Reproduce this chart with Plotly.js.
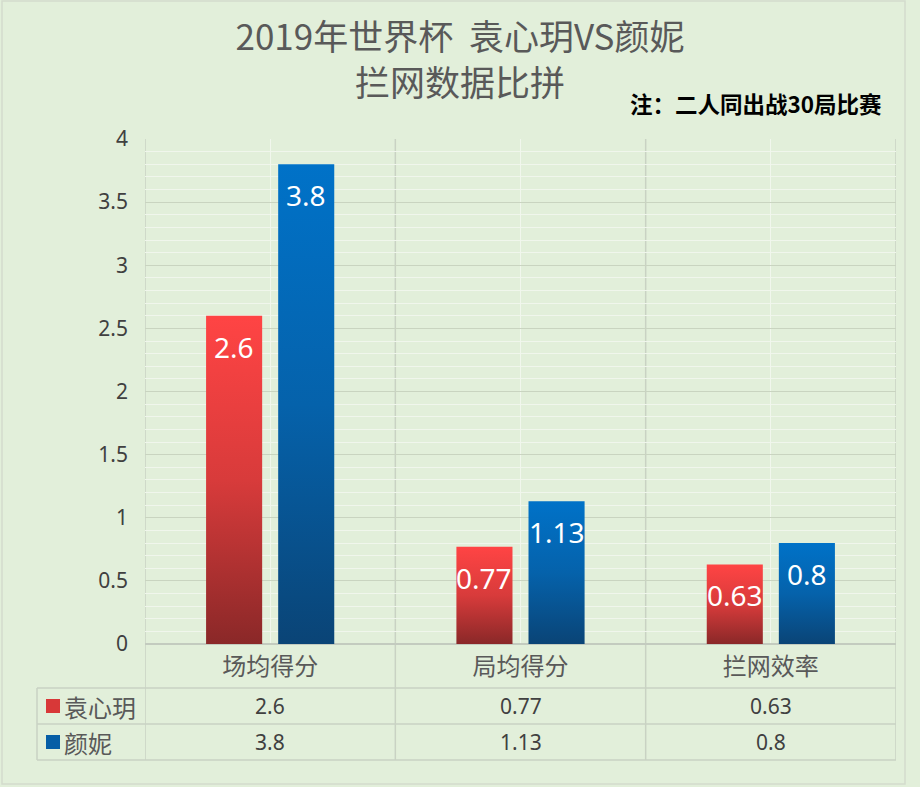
<!DOCTYPE html>
<html>
<head>
<meta charset="utf-8">
<script src="https://cdn.plot.ly/plotly-3.0.1.min.js"></script>
<style>html,body{margin:0;padding:0;background:#e2efda;}#chart{width:920px;height:787px;}</style>
</head>
<body>
<div id="chart"></div>
<script>
// ---- data ----
const categories = ['场均得分', '局均得分', '拦网效率'];
const seriesNames = ['袁心玥', '颜妮'];
const yuanValues = [2.6, 0.77, 0.63];
const yanValues = [3.8, 1.13, 0.8];
const yuanLabels = ['2.6', '0.77', '0.63'];
const yanLabels = ['3.8', '1.13', '0.8'];
const yTicks = [0, 0.5, 1, 1.5, 2, 2.5, 3, 3.5, 4];

// ---- styling ----
const BG = '#e2efda';
const FONT = '"Noto Sans", "Noto Sans CJK SC", sans-serif';
const CJK = '"Noto Sans CJK SC", "Noto Sans", sans-serif';
const series = [
  {name: seriesNames[0], values: yuanValues, labels: yuanLabels, offset: -0.144,
   scale: [[0, '#8a2828'], [0.5, '#d83b3b'], [1, '#ff4444']], key: '#d83838'},
  {name: seriesNames[1], values: yanValues, labels: yanLabels, offset: 0.144,
   scale: [[0, '#0a4476'], [0.5, '#0562ab'], [1, '#0072c8']], key: '#065ea6'}
];
const HALF = 0.112;

// pixel helpers for paper coords (plot area 145..896 x, 139..644 y)
const L = 145, R = 24, T = 139, B = 143, W = 920 - L - R, H = 787 - T - B;
const px = X => (X - L) / W;
const py = Y => (T + H - Y) / H;

const traces = [];
const annotations = [];
series.forEach(s => {
  s.values.forEach((v, i) => {
    const c = i + s.offset;
    traces.push({
      type: 'scatter', mode: 'lines', name: s.name,
      x: [c - HALF, c - HALF, c + HALF, c + HALF, c - HALF],
      y: [0, v, v, 0, 0],
      fill: 'toself',
      fillgradient: {type: 'vertical', colorscale: s.scale},
      line: {width: 0, color: 'rgba(0,0,0,0)'},
      hoveron: 'fills', text: s.name + ' ' + categories[i] + ': ' + s.labels[i],
      hoverinfo: 'text', showlegend: false
    });
    annotations.push({
      xref: 'x', yref: 'y', x: c, y: v, yshift: -31, yanchor: 'middle',
      text: s.labels[i], showarrow: false,
      font: {family: FONT, size: 28, color: '#ffffff'}
    });
  });
});

// table values + legend keys
const rowY = [706, 742];
series.forEach((s, r) => {
  s.labels.forEach((lab, i) => {
    annotations.push({
      xref: 'x', yref: 'paper', x: i, y: py(rowY[r]), yanchor: 'middle',
      text: lab, showarrow: false,
      font: {family: FONT, size: 21, color: '#404040'}
    });
  });
  annotations.push({
    xref: 'paper', yref: 'paper', x: px(62), y: py(rowY[r]), xanchor: 'left', yanchor: 'middle',
    text: s.name, showarrow: false,
    font: {family: CJK, size: 24, color: '#595959'}
  });
});

annotations.push({
  xref: 'paper', yref: 'paper', x: px(884), y: py(103), xanchor: 'right', yanchor: 'middle',
  text: '<b>注：二人同出战30局比赛</b>', showarrow: false,
  font: {family: CJK, size: 22.5, color: '#000000'}
});

const LINE = '#c9d2c3';
const shapes = [];
// vertical category boundaries through table
[-0.5, 0.5, 1.5, 2.5].forEach(xv => {
  shapes.push({type: 'line', xref: 'x', yref: 'paper', x0: xv, x1: xv, y0: 1, y1: py(760),
    line: {color: LINE, width: 1.5}, layer: 'below'});
});
// horizontal table lines
[688, 724, 760].forEach(Y => {
  shapes.push({type: 'line', xref: 'paper', yref: 'paper', x0: px(37), x1: 1, y0: py(Y), y1: py(Y),
    line: {color: LINE, width: 1.5}, layer: 'below'});
});
shapes.push({type: 'line', xref: 'paper', yref: 'paper', x0: px(37), x1: px(37), y0: py(688), y1: py(760),
  line: {color: LINE, width: 1.5}, layer: 'below'});
// legend key squares
series.forEach((s, r) => {
  shapes.push({type: 'rect', xref: 'paper', yref: 'paper',
    x0: px(46), x1: px(60), y0: py(rowY[r] + 7), y1: py(rowY[r] - 7),
    fillcolor: s.key, line: {width: 0}});
});
// outer frame
shapes.push({type: 'rect', xref: 'paper', yref: 'paper', x0: px(2), x1: px(905), y0: py(784), y1: py(1),
  line: {color: '#d3dccd', width: 1.5}, fillcolor: 'rgba(0,0,0,0)', layer: 'below'});

const layout = {
  width: 920, height: 787,
  margin: {l: L, r: R, t: T, b: B, pad: 0},
  paper_bgcolor: BG, plot_bgcolor: BG,
  showlegend: false,
  title: {
    text: '2019年世界杯  袁心玥VS颜妮<br>拦网数据比拼',
    font: {family: CJK, size: 35, color: '#595959'},
    x: 0.5, xref: 'container', xanchor: 'center',
    y: 0.936, yref: 'container', yanchor: 'top'
  },
  xaxis: {
    range: [-0.5, 2.5], tickmode: 'array', tickvals: [0, 1, 2], ticktext: categories,
    showgrid: true, gridcolor: '#f1f7ed', gridwidth: 1,
    zeroline: false, showline: false, ticks: '', ticklabelstandoff: 6,
    tickfont: {family: CJK, size: 24, color: '#595959'}, fixedrange: true
  },
  yaxis: {
    range: [0, 4], tickmode: 'array', tickvals: yTicks,
    showgrid: true, gridcolor: '#c9d4c0', gridwidth: 1.2,
    minor: {dtick: 0.1, showgrid: true, gridcolor: '#f0f6ec', gridwidth: 1},
    zeroline: true, zerolinecolor: '#c3cbbf', zerolinewidth: 2,
    showline: false, ticks: '', ticklabelstandoff: 16,
    tickfont: {family: FONT, size: 21, color: '#404040'}, fixedrange: true
  },
  annotations: annotations,
  shapes: shapes
};

Plotly.newPlot('chart', traces, layout, {displayModeBar: false});
</script>
</body>
</html>
